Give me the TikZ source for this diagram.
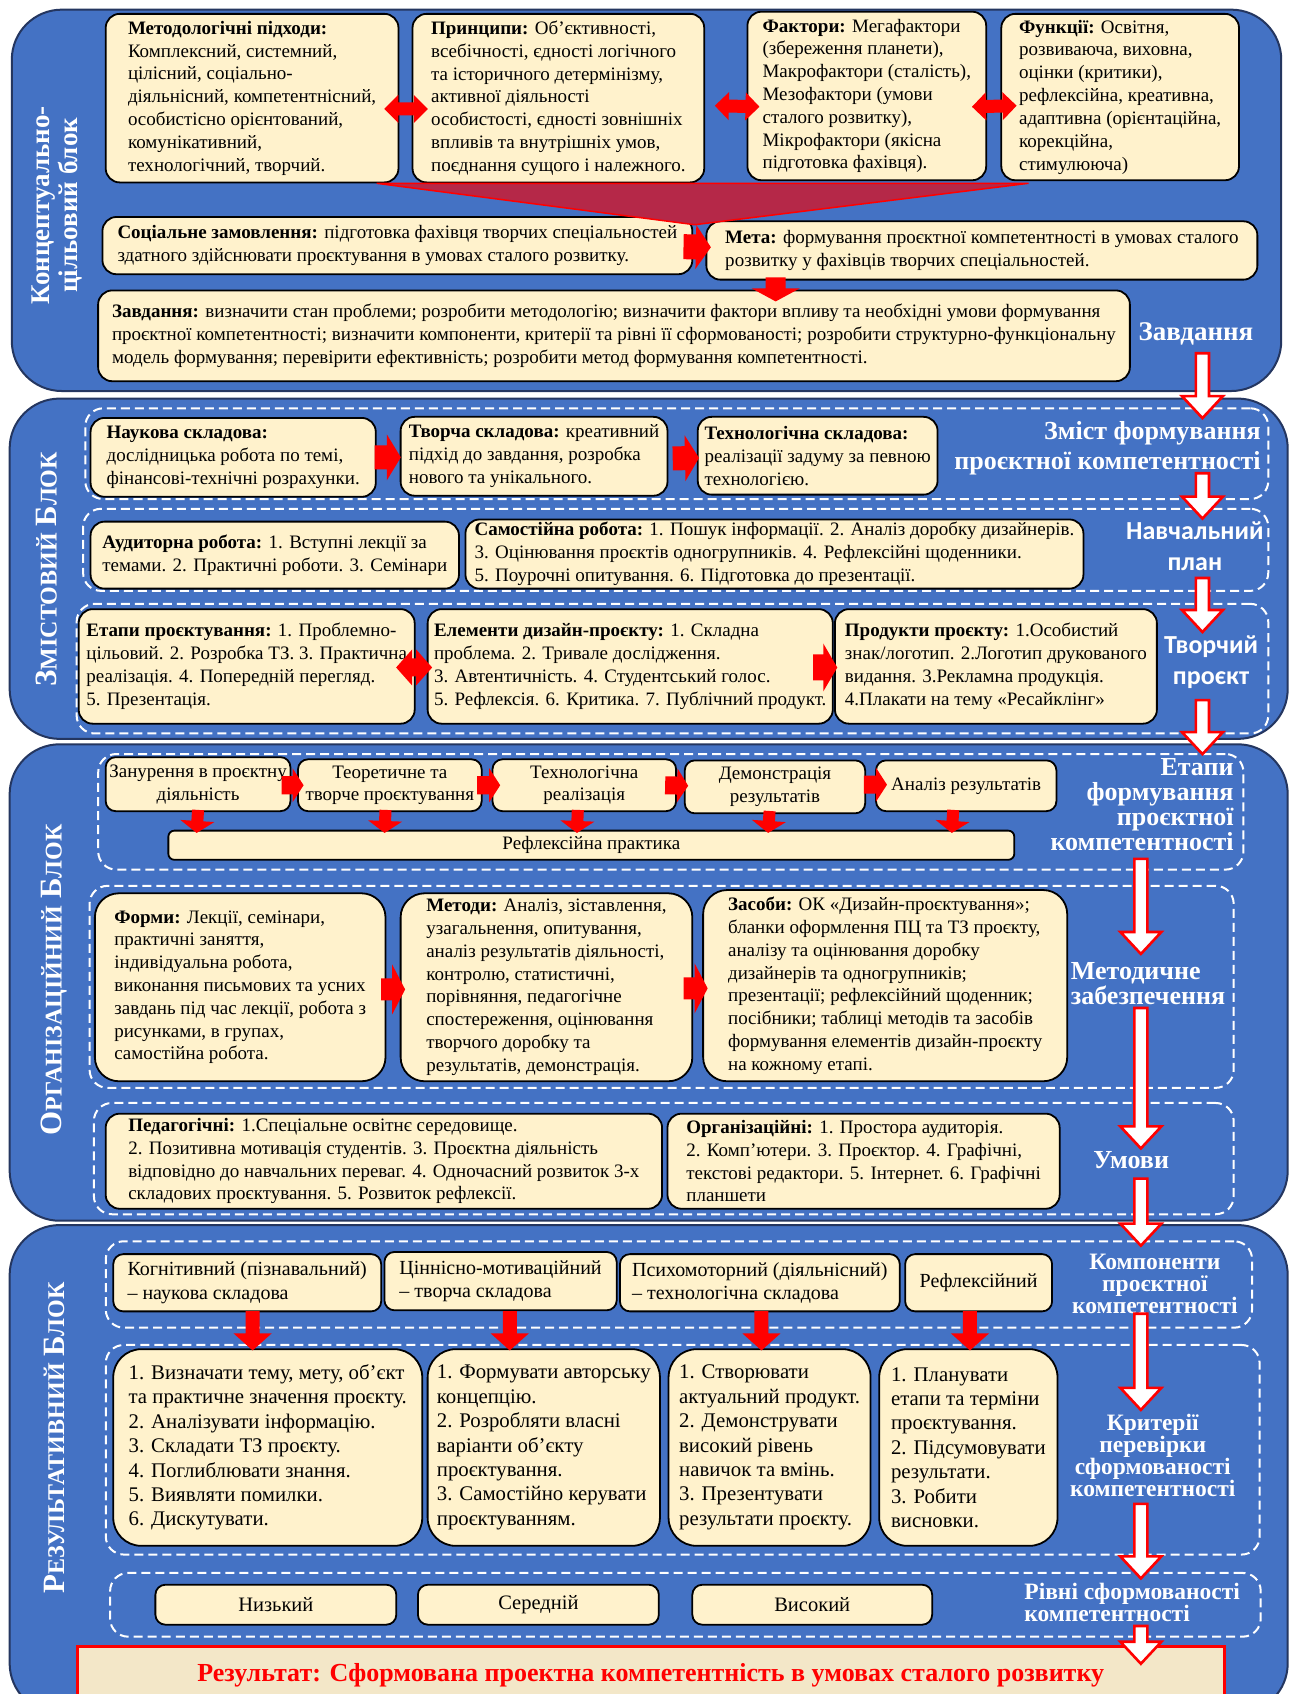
\documentclass[tikz,border=0pt]{standalone}
\usepackage{fontspec}
\setmainfont{Liberation Serif}
\newfontfamily\sansf{Carlito}
\usepackage{tikz}
\usetikzlibrary{calc}
\definecolor{blockblue}{RGB}{68,114,196}
\definecolor{blockedge}{RGB}{36,54,96}
\definecolor{cream}{RGB}{255,242,204}
\definecolor{funnelred}{RGB}{181,40,72}
\definecolor{resfill}{RGB}{243,231,200}
\newcommand\fakesc[2]{{\fontsize{31}{31}\selectfont #1}{\fontsize{24}{31}\selectfont #2}}
\tikzstyle{block} = [anchor=north west, fill=blockblue, draw=blockedge, line width=2pt, rounded corners=50pt]
\tikzstyle{group} = [anchor=north west, draw=white, line width=2pt, dash pattern=on 9pt off 5pt, rounded corners=18pt]
\tikzstyle{cbx} = [anchor=north west, fill=cream, draw=black, line width=1.8pt, rounded corners=14pt, align=left, inner xsep=3pt, inner ysep=1pt, font=\fontsize{19}{22.8}\selectfont]
\tikzstyle{cbxc} = [cbx, align=center, rounded corners=10pt]
\tikzstyle{bigbx} = [cbx, rounded corners=24pt]
\tikzstyle{compbx} = [cbx, rounded corners=10pt, font=\fontsize{20}{23.5}\selectfont]
\tikzstyle{critbx} = [cbx, rounded corners=28pt, font=\fontsize{20.8}{24.4}\selectfont]
\tikzstyle{lvlbx} = [cbx, align=center, rounded corners=10pt, font=\fontsize{20.5}{23}\selectfont]
\tikzstyle{resbx} = [anchor=north west, fill=resfill, draw=red, line width=3pt, text=red, font=\bfseries\fontsize{26}{28}\selectfont]
\tikzstyle{lbl} = [text=white, inner sep=0pt, align=center, font=\bfseries\fontsize{26}{30}\selectfont]
\tikzstyle{tlbl} = [lbl, font=\bfseries\fontsize{26}{25}\selectfont]
\tikzstyle{slbl} = [lbl, font=\bfseries\fontsize{23.5}{22}\selectfont]
\tikzstyle{sanslbl} = [lbl, font=\sansf\bfseries\fontsize{26}{31}\selectfont]
\tikzstyle{vlbl} = [text=white, rotate=90, inner sep=0pt, align=center, font=\bfseries\fontsize{27}{28}\selectfont]
\tikzset{
  wd/.style={minimum width=#1*1.08pt},
  ht/.style={minimum height=#1*1.08pt},
  blk/.style n args={3}{to path={
    ($(\tikztostart)!#1!90:(\tikztotarget)$) --
    ($(\tikztotarget)!#3!(\tikztostart)!#1!90:(\tikztotarget)$) --
    ($(\tikztotarget)!#3!(\tikztostart)!#2!90:(\tikztotarget)$) --
    (\tikztotarget) --
    ($(\tikztotarget)!#3!(\tikztostart)!#2!-90:(\tikztotarget)$) --
    ($(\tikztotarget)!#3!(\tikztostart)!#1!-90:(\tikztotarget)$) --
    ($(\tikztostart)!#1!-90:(\tikztotarget)$) -- cycle}},
  dblk/.style n args={3}{to path={
    (\tikztostart) --
    ($(\tikztostart)!#3!(\tikztotarget)!#2!90:(\tikztotarget)$) --
    ($(\tikztostart)!#3!(\tikztotarget)!#1!90:(\tikztotarget)$) --
    ($(\tikztotarget)!#3!(\tikztostart)!#1!90:(\tikztotarget)$) --
    ($(\tikztotarget)!#3!(\tikztostart)!#2!90:(\tikztotarget)$) --
    (\tikztotarget) --
    ($(\tikztotarget)!#3!(\tikztostart)!#2!-90:(\tikztotarget)$) --
    ($(\tikztotarget)!#3!(\tikztostart)!#1!-90:(\tikztotarget)$) --
    ($(\tikztostart)!#3!(\tikztotarget)!#1!-90:(\tikztotarget)$) --
    ($(\tikztostart)!#3!(\tikztotarget)!#2!-90:(\tikztotarget)$) -- cycle}},
  redarr/.style n args={3}{blk={#1}{#2}{#3}, fill=red, draw=none},
  reddbl/.style n args={3}{dblk={#1}{#2}{#3}, fill=red, draw=none},
  hollowarr/.style={blk={6.5pt}{20.5pt}{22pt}, fill=white, draw=red, line width=2.6pt}
}

\begin{document}
\begin{tikzpicture}[x=1.08pt, y=-1.08pt]
  \useasboundingbox (0,0) rectangle (1199,1568);
  \clip (0,0) rectangle (1199,1568);
  \fill[white] (0,0) rectangle (1199,1568);

  % Blocks
  \node (b1) [block, wd=1175, ht=353] at (10,8) {};
  \node (b2) [block, wd=1183, ht=315] at (8,368) {};
  \node (b3) [block, wd=1183, ht=441] at (8,688) {};
  \node (b4) [block, wd=1183, ht=452] at (8,1133) {};

  \node (b1lbl) [vlbl] at (53,190) {Концептуально-\\цільовий блок};
  \node (b2lbl) [vlbl] at (43,527) {\fakesc{З}{МІСТОВИЙ} \fakesc{Б}{ЛОК}};
  \node (b3lbl) [vlbl] at (50,907) {\fakesc{О}{РГАНІЗАЦІЙНИЙ} \fakesc{Б}{ЛОК}};
  \node (b4lbl) [vlbl] at (50,1331) {\fakesc{Р}{ЕЗУЛЬТАТИВНИЙ} \fakesc{Б}{ЛОК}};

  % Dashed groups
  \node (g21) [group, wd=1095, ht=84] at (78,377) {};
  \node (g22) [group, wd=1097, ht=76] at (76,470) {};
  \node (g23) [group, wd=1103, ht=120] at (70,558) {};
  \node (g31) [group, wd=1060, ht=107] at (90,697) {};
  \node (g32) [group, wd=1059, ht=187] at (82,819) {};
  \node (g33) [group, wd=1055, ht=103] at (86,1020) {};
  \node (g41) [group, wd=1061, ht=80] at (97,1148) {};
  \node (g42) [group, wd=1068, ht=194] at (97,1244) {};
  \node (g43) [group, wd=1065, ht=59] at (101,1455) {};

  % Nodes: conceptual block
  \node (met) [cbx, wd=271, ht=156] at (97,12) {\textbf{Методологічні підходи:}\\Комплексний, системний,\\цілісний, соціально-\\діяльнісний, компетентнісний,\\особистісно орієнтований,\\комунікативний,\\технологічний, творчий.};
  \node (pri) [cbx, wd=270, ht=156] at (381,12) {\textbf{Принципи:} Об’єктивності,\\всебічності, єдності логічного\\та історичного детермінізму,\\активної діяльності\\особистості, єдності зовнішніх\\впливів та внутрішніх умов,\\поєднання сущого і належного.};
  \node (fak) [cbx, wd=221, ht=156] at (691,10) {\textbf{Фактори:} Мегафактори\\(збереження планети),\\Макрофактори (сталість),\\Мезофактори (умови\\сталого розвитку),\\Мікрофактори (якісна\\підготовка фахівця).};
  \node (fun) [cbx, wd=220, ht=154] at (926,12) {\textbf{Функції:} Освітня,\\розвиваюча, виховна,\\оцінки (критики),\\рефлексійна, креативна,\\адаптивна (орієнтаційна,\\корекційна,\\стимулююча)};
  \node (soc) [cbx, wd=546, ht=53] at (94,200) {\textbf{Соціальне замовлення:} підготовка фахівця творчих спеціальностей\\здатного здійснювати проєктування в умовах сталого розвитку.};
  \node (meta) [cbx, wd=510, ht=54] at (653,204) {\textbf{Мета:} формування проєктної компетентності в умовах сталого\\розвитку у фахівців творчих спеціальностей.};
  \node (zav) [cbx, wd=955, ht=84] at (90,268) {\textbf{Завдання:} визначити стан проблеми; розробити методологію; визначити фактори впливу та необхідні умови формування\\проєктної компетентності; визначити компоненти, критерії та рівні її сформованості; розробити структурно-функціональну\\модель формування; перевірити ефективність; розробити метод формування компетентності.};

  % Nodes: content block
  \node (nauk) [cbx, wd=264, ht=73] at (83,386) {\textbf{Наукова складова:}\\дослідницька робота по темі,\\фінансові-технічні розрахунки.};
  \node (tvor) [cbx, wd=247, ht=73] at (370,385) {\textbf{Творча складова:} креативний\\підхід до завдання, розробка\\нового та унікального.};
  \node (tekh) [cbx, wd=222, ht=72] at (645,385) {\textbf{Технологічна складова:}\\реалізації задуму за певною\\технологією.};
  \node (aud) [cbx, wd=341, ht=62] at (83,482) {\textbf{Аудиторна робота:} 1. Вступні лекції за\\темами. 2. Практичні роботи. 3. Семінари};
  \node (sam) [cbx, wd=572, ht=64] at (430,480) {\textbf{Самостійна робота:} 1. Пошук інформації. 2. Аналіз доробку дизайнерів.\\3. Оцінювання проєктів одногрупників. 4. Рефлексійні щоденники.\\5. Поурочні опитування. 6. Підготовка до презентації.};
  \node (etap) [cbx, wd=311, ht=106] at (72,563) {\textbf{Етапи проєктування:} 1. Проблемно-\\цільовий. 2. Розробка ТЗ. 3. Практична\\реалізація. 4. Попередній перегляд.\\5. Презентація.};
  \node (elem) [cbx, wd=375, ht=106] at (395,563) {\textbf{Елементи дизайн-проєкту:} 1. Складна\\проблема. 2. Тривале дослідження.\\3. Автентичність. 4. Студентський голос.\\5. Рефлексія. 6. Критика. 7. Публічний продукт.};
  \node (prod) [cbx, wd=298, ht=106] at (772,563) {\textbf{Продукти проєкту:} 1.Особистий\\знак/логотип. 2.Логотип друкованого\\видання. 3.Рекламна продукція.\\4.Плакати на тему «Ресайклінг»};

  % Nodes: organisational block
  \node (zan) [cbxc, wd=171, ht=50] at (97,700) {Занурення в проєктну\\діяльність};
  \node (teor) [cbxc, wd=170, ht=48] at (275,702) {Теоретичне та\\творче проєктування};
  \node (tehr) [cbxc, wd=170, ht=48] at (455,702) {Технологічна\\реалізація};
  \node (dem) [cbxc, wd=167, ht=49] at (633,703) {Демонстрація\\результатів};
  \node (anal) [cbxc, wd=167, ht=47] at (810,703) {Аналіз результатів};
  \node (refl) [cbxc, wd=783, ht=27, rounded corners=6pt] at (155,768) {Рефлексійна практика};
  \node (form) [bigbx, wd=269, ht=174] at (87,826) {\textbf{Форми:} Лекції, семінари,\\практичні заняття,\\індивідуальна робота,\\виконання письмових та усних\\завдань під час лекції, робота з\\рисунками, в групах,\\самостійна робота.};
  \node (metod) [bigbx, wd=270, ht=174] at (370,826) {\textbf{Методи:} Аналіз, зіставлення,\\узагальнення, опитування,\\аналіз результатів діяльності,\\контролю, статистичні,\\порівняння, педагогічне\\спостереження, оцінювання\\творчого доробку та\\результатів, демонстрація.};
  \node (zas) [bigbx, wd=337, ht=177] at (650,823) {\textbf{Засоби:} ОК «Дизайн-проєктування»;\\бланки оформлення ПЦ та ТЗ проєкту,\\аналізу та оцінювання доробку\\дизайнерів та одногрупників;\\презентації; рефлексійний щоденник;\\посібники; таблиці методів та засобів\\формування елементів дизайн-проєкту\\на кожному етапі.};
  \node (ped) [cbx, wd=515, ht=88] at (97,1030) {\textbf{Педагогічні:} 1.Спеціальне освітнє середовище.\\2. Позитивна мотивація студентів. 3. Проєктна діяльність\\відповідно до навчальних переваг. 4. Одночасний розвиток 3-х\\складових проєктування. 5. Розвиток рефлексії.};
  \node (org) [cbx, wd=363, ht=88] at (617,1030) {\textbf{Організаційні:} 1. Простора аудиторія.\\2. Комп’ютери. 3. Проєктор. 4. Графічні,\\текстові редактори. 5. Інтернет. 6. Графічні\\планшети};

  % Nodes: result block
  \node (kog) [compbx, wd=248, ht=53] at (104,1160) {Когнітивний (пізнавальний)\\– наукова складова};
  \node (cin) [compbx, wd=215, ht=54] at (355,1158) {Ціннісно-мотиваційний\\– творча складова};
  \node (psy) [compbx, wd=259, ht=53] at (573,1160) {Психомоторний (діяльнісний)\\– технологічна складова};
  \node (ref) [compbx, align=center, wd=136, ht=53] at (837,1160) {Рефлексійний};
  \node (k1) [critbx, wd=286, ht=182] at (104,1248) {1. Визначати тему, мету, об’єкт\\та практичне значення проєкту.\\2. Аналізувати інформацію.\\3. Складати ТЗ проєкту.\\4. Поглиблювати знання.\\5. Виявляти помилки.\\6. Дискутувати.};
  \node (k2) [critbx, wd=215, ht=182] at (395,1248) {1. Формувати авторську\\концепцію.\\2. Розробляти власні\\варіанти об’єкту\\проєктування.\\3. Самостійно керувати\\проєктуванням.};
  \node (k3) [critbx, wd=187, ht=182] at (618,1248) {1. Створювати\\актуальний продукт.\\2. Демонструвати\\високий рівень\\навичок та вмінь.\\3. Презентувати\\результати проєкту.};
  \node (k4) [critbx, wd=165, ht=182] at (813,1248) {1. Планувати\\етапи та терміни\\проєктування.\\2. Підсумовувати\\результати.\\3. Робити\\висновки.};
  \node (niz) [lvlbx, wd=223, ht=37] at (143,1466) {Низький};
  \node (ser) [lvlbx, wd=223, ht=37] at (386,1466) {Середній};
  \node (vys) [lvlbx, wd=222, ht=37] at (640,1466) {Високий};
  \node (res) [resbx, wd=1062, ht=52] at (70,1523) {Результат: Сформована проектна компетентність в умовах сталого розвитку};

  % Funnel
  \coordinate (apex) at (643,208);
  \path[draw=red, fill=funnelred, line width=1.5pt] ($(met.south east)+(-21,0)$) -- ($(fun.south west)+(26,2)$) -- (apex) -- cycle;

  % Arrows between boxes
  \path[reddbl={6.5pt}{14pt}{14pt}] ($(met.east)+(-14,10)$) to ($(pri.west)+(15,10)$);
  \path[reddbl={6.5pt}{14pt}{14pt}] ($(pri.east)+(9,7)$) to ($(fak.west)+(12,10)$);
  \path[reddbl={6.5pt}{14pt}{14pt}] ($(fak.east)+(-14,10)$) to ($(fun.west)+(15,8)$);
  \path[redarr={12.5pt}{22pt}{15pt}] ($(soc.east)+(-9,1)$) to ($(meta.west)+(5,-3)$);
  \path[redarr={10pt}{24pt}{13pt}] ($(meta.south west)+(65,-3)$) to ($(zav.north west)+(628,11)$);
  \path[redarr={12pt}{23pt}{14pt}] ($(nauk.east)+(-2,0)$) to ($(tvor.west)+(1,1)$);
  \path[redarr={12pt}{23pt}{14pt}] ($(tvor.east)+(4,2)$) to ($(tekh.west)+(2,2)$);
  \path[reddbl={9pt}{18pt}{16pt}] ($(etap.east)+(-18,1)$) to ($(elem.west)+(5,1)$);
  \path[redarr={13pt}{24pt}{14pt}] ($(elem.east)+(-19,1)$) to ($(prod.west)+(3,1)$);
  \path[redarr={9pt}{17pt}{11pt}] ($(zan.east)+(-9,1)$) to ($(teor.west)+(6,0)$);
  \path[redarr={9pt}{17pt}{11pt}] ($(teor.east)+(-5,0)$) to ($(tehr.west)+(8,0)$);
  \path[redarr={9pt}{17pt}{11pt}] ($(tehr.east)+(-11,0)$) to ($(dem.west)+(4,-1)$);
  \path[redarr={9pt}{17pt}{11pt}] ($(dem.east)+(-2,-2)$) to ($(anal.west)+(11,-1)$);
  \path[redarr={6pt}{17pt}{12pt}] ($(zan.south)+(0,-2)$) to ($(refl.north west)+(27,3)$);
  \path[redarr={6pt}{17pt}{12pt}] ($(teor.south)+(-4,-2)$) to ($(refl.north west)+(201,3)$);
  \path[redarr={6pt}{17pt}{12pt}] ($(tehr.south)+(-6,-2)$) to ($(refl.north west)+(379,3)$);
  \path[redarr={6pt}{17pt}{12pt}] ($(dem.south)+(-5,-3)$) to ($(refl.north west)+(556,3)$);
  \path[redarr={6pt}{17pt}{12pt}] ($(anal.south)+(-12,-2)$) to ($(refl.north west)+(726,3)$);
  \path[redarr={11pt}{25pt}{13pt}] ($(form.east)+(-5,2)$) to ($(metod.west)+(5,2)$);
  \path[redarr={11pt}{25pt}{13pt}] ($(metod.east)+(-9,1)$) to ($(zas.west)+(5,2.5)$);
  \path[redarr={7pt}{19pt}{17pt}] ($(kog.south)+(5,-1)$) to ($(k1.north)+(-14,2)$);
  \path[redarr={7pt}{19pt}{17pt}] ($(cin.south)+(8.5,0)$) to ($(k2.north)+(-31.5,2)$);
  \path[redarr={7pt}{19pt}{17pt}] ($(psy.south)+(1.5,-1)$) to ($(k3.north)+(-7.5,2)$);
  \path[redarr={7pt}{19pt}{17pt}] ($(ref.south)+(-8,-1)$) to ($(k4.north)+(1.5,2)$);

  % Side labels
  \node (zl) [lbl, font=\bfseries\fontsize{27}{30}\selectfont] at (1107,309) {Завдання};
  \node (zmist) [lbl, align=right, anchor=east] at (1167,415) {Зміст формування\\проєктної компетентності};
  \node (nplan) [sanslbl] at (1106,506) {Навчальний\\план};
  \node (tproj) [sanslbl] at (1121,613) {Творчий\\проєкт};
  \node (etl) [tlbl, align=right, anchor=east] at (1142,745) {Етапи\\формування\\проєктної\\компетентності};
  \node (mzab) [tlbl, align=left, anchor=west] at (991,910) {Методичне\\забезпечення};
  \node (umovy) [lbl] at (1047,1074) {Умови};
  \node (komp) [slbl] at (1069,1188) {Компоненти\\проєктної\\компетентності};
  \node (krit) [slbl] at (1067,1347) {Критерії\\перевірки\\сформованості\\компетентності};
  \node (rivni) [slbl, align=left, anchor=west] at (948,1483) {Рівні сформованості\\компетентності};

  % Hollow arrows along the right side
  \coordinate (h1s) at (1113,327);  \coordinate (h1e) at (1113,387);
  \coordinate (h2s) at (1113,438);  \coordinate (h2e) at (1113,480);
  \coordinate (h3s) at (1113,535);  \coordinate (h3e) at (1113,585);
  \coordinate (h4s) at (1113,648);  \coordinate (h4e) at (1113,698);
  \coordinate (h5s) at (1056,795);  \coordinate (h5e) at (1056,883);
  \coordinate (h6s) at (1056,933);  \coordinate (h6e) at (1056,1063);
  \coordinate (h7s) at (1056,1091); \coordinate (h7e) at (1056,1153);
  \coordinate (h8s) at (1056,1216); \coordinate (h8e) at (1056,1305);
  \coordinate (h9s) at (1056,1392); \coordinate (h9e) at (1056,1461);
  \coordinate (h10s) at (1056,1505); \coordinate (h10e) at (1056,1540);
  \draw[hollowarr] (h1s) to (h1e);
  \draw[hollowarr] (h2s) to (h2e);
  \draw[hollowarr] (h3s) to (h3e);
  \draw[hollowarr] (h4s) to (h4e);
  \draw[hollowarr] (h5s) to (h5e);
  \draw[hollowarr] (h6s) to (h6e);
  \draw[hollowarr] (h7s) to (h7e);
  \draw[hollowarr] (h8s) to (h8e);
  \draw[hollowarr] (h9s) to (h9e);
  \draw[hollowarr] (h10s) to (h10e);

\end{tikzpicture}
\end{document}
